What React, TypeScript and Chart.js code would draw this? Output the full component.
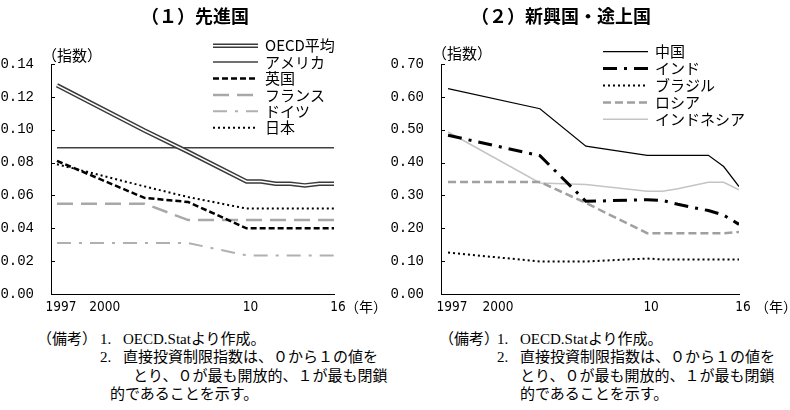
import React, { useEffect, useRef } from "react";
import { Chart, registerables } from "chart.js";

Chart.register(...registerables);
Chart.defaults.color = "#000";

// ---- data ----
const years = [1997, 2003, 2006, 2010, 2011, 2012, 2013, 2014, 2015, 2016];
const xTickYears = [1997, 2000, 2010, 2016];
const xTickLabels = ["1997", "2000", "10", "16"];

// (1) advanced economies
const oecdAvg = [0.127, 0.0995, 0.0865, 0.0685, 0.0685, 0.0671, 0.0671, 0.0661, 0.0671, 0.0671];
const usa = [0.089, 0.089, 0.089, 0.089, 0.089, 0.089, 0.089, 0.089, 0.089, 0.089];
const uk = [0.081, 0.0585, 0.056, 0.04, 0.04, 0.04, 0.04, 0.04, 0.04, 0.04];
const france = [0.055, 0.055, 0.045, 0.045, 0.045, 0.045, 0.045, 0.045, 0.045, 0.045];
const germany = [0.031, 0.031, 0.031, 0.0235, 0.0235, 0.0235, 0.0235, 0.0235, 0.0235, 0.0235];
const japan = [0.079, 0.0655, 0.059, 0.052, 0.052, 0.052, 0.052, 0.052, 0.052, 0.052];

// (2) emerging / developing economies
const china = [0.625, 0.564, 0.45, 0.422, 0.422, 0.422, 0.422, 0.422, 0.388, 0.327];
const india = [0.483, 0.421, 0.282, 0.287, 0.285, 0.273, 0.263, 0.254, 0.24, 0.212];
const brazil = [0.126, 0.099, 0.099, 0.108, 0.105, 0.105, 0.105, 0.105, 0.105, 0.105];
const russia = [0.341, 0.341, 0.277, 0.185, 0.185, 0.185, 0.185, 0.185, 0.185, 0.189];
const indonesia = [0.493, 0.338, 0.333, 0.313, 0.313, 0.32, 0.33, 0.34, 0.34, 0.317];

const leftLabels = ["OECD平均", "アメリカ", "英国", "フランス", "ドイツ", "日本"];
const rightLabels = ["中国", "インド", "ブラジル", "ロシア", "インドネシア"];

const pts = (arr: number[]) => years.map((x, i) => ({ x, y: arr[i] }));

const CJK = "'Noto Sans CJK JP', 'Noto Sans CJK SC', sans-serif";

function line(label: string, arr: number[], color: string, width: number, dash: number[] = [], extra: any = {}) {
  return {
    label,
    data: pts(arr),
    borderColor: color,
    backgroundColor: color,
    borderWidth: width,
    borderDash: dash,
    pointRadius: 0,
    tension: 0,
    fill: false,
    ...extra,
  };
}

const leftDatasets = [
  line(leftLabels[0], oecdAvg, "#3a3a3a", 4.5, [], { legendDouble: true }),
  line(leftLabels[1], usa, "#404040", 1.5),
  line(leftLabels[2], uk, "#000000", 2.5, [6, 3]),
  line(leftLabels[3], france, "#a8a8a8", 2.5, [16, 8]),
  line(leftLabels[4], germany, "#b0b0b0", 2, [14, 8, 3, 8]),
  line(leftLabels[5], japan, "#000000", 2, [2, 3]),
  line(leftLabels[0] + "_inner", oecdAvg, "#ffffff", 1.6, [], { legendHidden: true, order: -1 }),
];

const rightDatasets = [
  line(rightLabels[0], china, "#000000", 1.2),
  line(rightLabels[1], india, "#000000", 3, [14, 7, 3, 7]),
  line(rightLabels[2], brazil, "#000000", 2, [2, 3]),
  line(rightLabels[3], russia, "#a0a0a0", 2.5, [8, 4]),
  line(rightLabels[4], indonesia, "#c4c4c4", 1.5),
];

const insideTicks = {
  id: "insideTicks",
  afterDraw(chart: any) {
    const ys = chart.scales.y;
    const ctx = chart.ctx;
    ctx.save();
    ctx.strokeStyle = "#000";
    ctx.lineWidth = 1;
    ys.ticks.forEach((_t: any, i: number) => {
      const py = Math.round(ys.getPixelForTick(i)) + 0.5;
      ctx.beginPath();
      ctx.moveTo(ys.right, py);
      ctx.lineTo(ys.right + 4, py);
      ctx.stroke();
    });
    ctx.restore();
  },
};

const customLegend = {
  id: "customLegend",
  afterDraw(chart: any, _args: any, opts: any) {
    const ctx = chart.ctx;
    ctx.save();
    ctx.font = `15px ${CJK}`;
    ctx.textBaseline = "middle";
    ctx.fillStyle = "#000";
    let row = 0;
    chart.data.datasets.forEach((ds: any) => {
      if (ds.legendHidden) return;
      const y = opts.y0 + row * opts.dy;
      const x0 = opts.x0;
      const x1 = opts.x1;
      ctx.setLineDash(ds.borderDash || []);
      ctx.lineCap = "butt";
      ctx.strokeStyle = ds.borderColor;
      ctx.lineWidth = ds.borderWidth;
      ctx.beginPath();
      ctx.moveTo(x0, y);
      ctx.lineTo(x1, y);
      ctx.stroke();
      if (ds.legendDouble) {
        ctx.strokeStyle = "#fff";
        ctx.lineWidth = 1.6;
        ctx.beginPath();
        ctx.moveTo(x0 - 1, y);
        ctx.lineTo(x1 + 1, y);
        ctx.stroke();
      }
      ctx.setLineDash([]);
      ctx.fillText(ds.label, opts.tx, y);
      row++;
    });
    ctx.restore();
  },
};

function LineChart(props: {
  datasets: any[];
  yMax: number;
  yStep: number;
  xMin: number;
  width: number;
  height: number;
  padRight: number;
  legendY0: number;
  legendDy: number;
}) {
  const ref = useRef<HTMLCanvasElement | null>(null);
  useEffect(() => {
    if (!ref.current) return;
    const chart = new Chart(ref.current, {
      type: "line",
      data: { datasets: props.datasets },
      options: {
        responsive: false,
        animation: false,
        devicePixelRatio: 1,
        layout: { padding: { left: 0, right: props.padRight, top: 64, bottom: 0 } },
        plugins: {
          legend: { display: false },
          tooltip: { enabled: false },
          customLegend: { x0: 213, x1: 258, tx: 265, y0: props.legendY0, dy: props.legendDy },
        } as any,
        scales: {
          x: {
            type: "linear",
            min: props.xMin,
            max: 2016,
            grid: { display: false, drawTicks: false },
            border: { display: true, color: "#000", width: 1 },
            afterBuildTicks: (s: any) => {
              s.ticks = xTickYears.map((v) => ({ value: v }));
            },
            afterFit: (s: any) => {
              s.height = 26;
            },
            ticks: {
              autoSkip: false,
              maxRotation: 0,
              padding: 5,
              labelOffset: 4,
              color: "#000",
              font: { family: "'Liberation Sans Narrow', 'DejaVu Sans Condensed', sans-serif", size: 13.5 },
              callback: (_v: any, i: number) => xTickLabels[i],
            },
          },
          y: {
            type: "linear",
            min: 0,
            max: props.yMax,
            grid: { display: false, drawTicks: false },
            border: { display: true, color: "#000", width: 1 },
            afterFit: (s: any) => {
              s.width = 51;
            },
            ticks: {
              stepSize: props.yStep,
              padding: 17,
              color: "#000",
              font: { family: "'Liberation Mono', 'DejaVu Sans Mono', monospace", size: 14 },
              callback: (v: any) => Number(v).toFixed(2),
            },
          },
        },
      },
      plugins: [insideTicks, customLegend],
    });
    return () => chart.destroy();
  }, []);
  return (
    <canvas
      ref={ref}
      width={props.width}
      height={props.height}
      style={{ width: props.width, height: props.height, display: "block" }}
    />
  );
}

function Txt(props: { x: number; cy: number; size: number; bold?: boolean; serif?: boolean; children: any }) {
  const fam = props.serif ? `'Liberation Serif', ${CJK}` : CJK;
  return (
    <div
      style={{
        position: "absolute",
        left: props.x,
        top: props.cy - props.size * 0.556,
        fontSize: props.size,
        lineHeight: `${props.size}px`,
        fontFamily: fam,
        fontWeight: props.bold ? 700 : 400,
        whiteSpace: "nowrap",
        color: "#000",
      }}
    >
      {props.children}
    </div>
  );
}

function Notes(props: { x0: number; xNum: number; xText: number; xCont: number; xLast: number; lines: string[] }) {
  const ys = [340, 358, 377, 395];
  return (
    <>
      <Txt x={props.x0} cy={ys[0]} size={15} serif>（備考）</Txt>
      <Txt x={props.xNum} cy={ys[0]} size={15} serif>1.</Txt>
      <Txt x={props.xText} cy={ys[0]} size={15} serif>{props.lines[0]}</Txt>
      <Txt x={props.xNum} cy={ys[1]} size={15} serif>2.</Txt>
      <Txt x={props.xText} cy={ys[1]} size={15} serif>{props.lines[1]}</Txt>
      <Txt x={props.xCont} cy={ys[2]} size={15} serif>{props.lines[2]}</Txt>
      <Txt x={props.xLast} cy={ys[3]} size={15} serif>{props.lines[3]}</Txt>
    </>
  );
}

const noteLines = [
  "OECD.Statより作成。",
  "直接投資制限指数は、０から１の値を",
  "とり、０が最も開放的、１が最も閉鎖",
  "的であることを示す。",
];

export default function App() {
  return (
    <div
      style={{
        position: "absolute",
        left: 0,
        top: 0,
        width: 790,
        height: 410,
        background: "#fff",
        overflow: "hidden",
      }}
    >
      <div style={{ position: "absolute", left: 0, top: 0 }}>
        <LineChart
          datasets={leftDatasets}
          yMax={0.14}
          yStep={0.02}
          xMin={1996.59}
          width={390}
          height={320}
          padRight={56}
          legendY0={45.7}
          legendDy={16.4}
        />
      </div>
      <div style={{ position: "absolute", left: 390, top: 0 }}>
        <LineChart
          datasets={rightDatasets}
          yMax={0.7}
          yStep={0.1}
          xMin={1996.54}
          width={400}
          height={320}
          padRight={51}
          legendY0={51.7}
          legendDy={16.9}
        />
      </div>

      <Txt x={141} cy={16} size={18} bold>（１）先進国</Txt>
      <Txt x={471} cy={16} size={18} bold>（２）新興国・途上国</Txt>

      <Txt x={42} cy={55} size={15}>（指数）</Txt>
      <Txt x={432} cy={53} size={15}>（指数）</Txt>
      <Txt x={345} cy={307} size={14}>（年）</Txt>
      <Txt x={755} cy={307} size={14}>（年）</Txt>

      <Notes x0={37} xNum={100} xText={123} xCont={133} xLast={110} lines={noteLines} />
      <Notes x0={439} xNum={497} xText={520} xCont={520} xLast={520} lines={noteLines} />
    </div>
  );
}
